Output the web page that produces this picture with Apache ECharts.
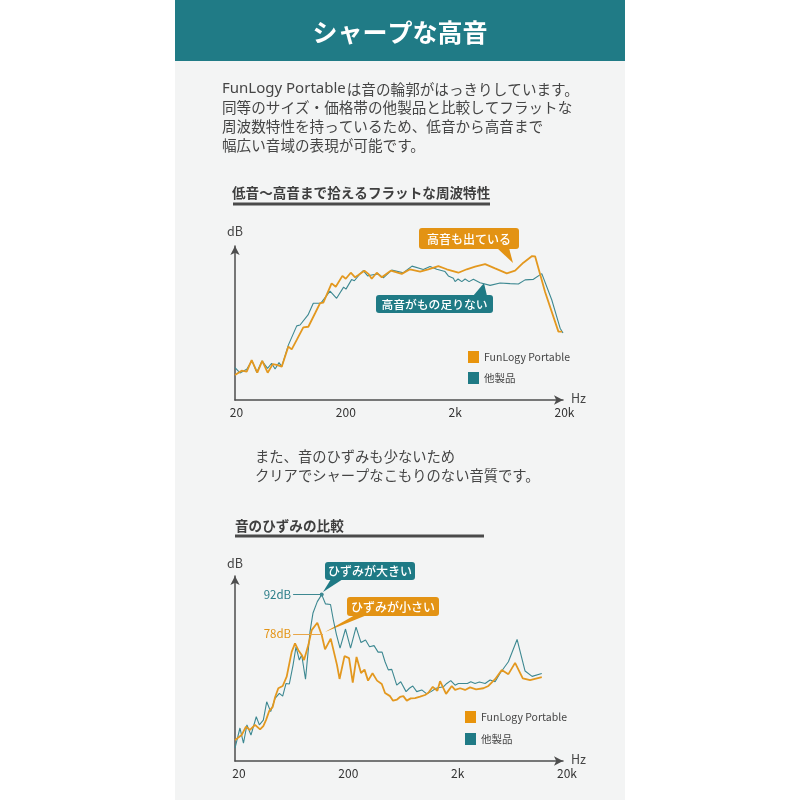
<!DOCTYPE html>
<html>
<head>
<meta charset="utf-8">
<script src="https://cdn.jsdelivr.net/npm/echarts@6/dist/echarts.min.js"></script>
<style>
html,body{margin:0;padding:0;background:#ffffff;}
#c{width:800px;height:800px;}
</style>
</head>
<body>
<div id="c"></div>
<script>
// ---------- data ----------
const xTickLabels = ['20', '200', '2k', '20k'];
const seriesNames = ['FunLogy Portable', '他製品'];

// Chart 1: frequency response [Hz, dB]
const funlogyResponse = [[20,41.7],[23,43.2],[25.6,42.9],[28.4,46.9],[32,42.5],[35.5,46.6],[39.8,42.5],[44.3,45.5],[48.1,45.2],[53.5,44.6],[61.5,51.6],[66,50.6],[73.4,53.9],[84.3,58.3],[93.7,58.5],[108,63.2],[120,66.7],[128.5,66.9],[153,73.6],[167,72.4],[192,76.2],[206,75.2],[229,77.3],[251,75.7],[269,76.5],[305,78.0],[332,76.9],[356,75.2],[396,77.3],[440,75.7],[532,78.0],[670,76.9],[798,78.5],[986,77.7],[1174,78.5],[1449,79.6],[1730,78.5],[2208,77.3],[2636,78.5],[3140,79.4],[3877,80.3],[4785,78.8],[6120,77.1],[7292,78.0],[8684,80.8],[10434,83.1],[11108,83.0],[13716,70.6],[18154,56.8],[19620,56.8]];
const otherResponse = [[20,44.3],[22.2,42.4],[25.6,43.7],[28.6,46.7],[31.6,42.6],[35.3,46.6],[39.7,44.0],[43.3,45.8],[46.5,43.8],[50.5,46.0],[53.5,44.6],[61.5,52.1],[73.4,58.8],[78.7,59.1],[93.1,62.6],[104,66.7],[122,66.7],[148,70.9],[170,68.4],[197,72.3],[207,71.6],[233,74.9],[247,74.5],[278,76.9],[298,78.0],[327,76.2],[356,76.5],[409,76.9],[455,75.5],[543,78.2],[693,77.3],[832,79.6],[1056,78.4],[1216,79.5],[1400,78.5],[1668,77.7],[1788,76.2],[1988,75.4],[2060,74.2],[2194,75.1],[2372,74.2],[2544,75.1],[2766,74.2],[3028,75.0],[3488,73.8],[4306,72.9],[5316,73.7],[6561,73.5],[7816,73.4],[9000,74.8],[10724,75.0],[12794,77.0],[15800,67.8],[18816,58.0],[20000,56.3]];

// Chart 2: distortion [Hz, dB]
const funlogyDistortion = [[20,40.4],[23,42.2],[25.2,45.2],[27.4,44.0],[30.5,45.8],[33.9,44.2],[36.3,45.4],[38.4,47.5],[41.2,50.8],[44.3,52.2],[46.5,55.6],[49.8,58.8],[54.6,59.6],[59.4,62.9],[66,71.7],[70.8,74.7],[75.9,72.3],[81.5,70.6],[85.6,68.8],[93.7,74.1],[100.6,79.4],[113.2,82.0],[124.2,77.7],[133.2,72.6],[150.2,76.4],[171.5,67.0],[180.8,62.1],[200.8,70.2],[220.8,69.5],[238.8,60.8],[258.6,69.9],[284.2,64.2],[306,65.4],[329.6,61.5],[362.2,64.1],[398.4,61.5],[440,60.3],[471.4,57.1],[523.8,56.0],[558,54.4],[607,54.8],[646.6,55.7],[693,56.0],[744.6,54.4],[810,55.2],[887,55.3],[986,55.8],[1095,56.4],[1174,57.2],[1288,59.3],[1419,57.9],[1502,61.3],[1704,56.8],[1922,59.6],[2060,58.2],[2290,58.8],[2544,58.2],[2825,59.1],[3207,58.4],[3739,58.8],[4155,59.6],[4785,62.0],[5508,65.3],[6332,63.8],[7292,67.8],[8574,62.3],[10000,61.7],[12794,62.7]];
const otherDistortion = [[20,37.6],[22.2,44.7],[23.9,39.3],[25.7,45.8],[28.0,42.2],[31.3,48.7],[33.4,45.8],[36.3,47.5],[39.0,54.0],[42.4,50.5],[46.5,55.2],[50.9,57.0],[54.6,56.0],[58.6,60.5],[62.8,60.3],[67.9,67.0],[72.3,73.5],[77.5,68.8],[81.5,70.6],[88.3,62.0],[97.1,78.9],[103.4,85.5],[113.2,89.5],[124.2,92.0],[134.6,88.7],[149.5,88.5],[158.7,83.0],[169,78.0],[182.7,73.0],[205,79.8],[228,73.0],[256,80.5],[284.2,75.0],[312.6,75.9],[340,73.5],[374,73.9],[407,71.6],[443,71.6],[471.4,68.2],[505,65.3],[543,65.5],[603,59.9],[656,61.1],[734,57.6],[787,58.8],[845,59.6],[919,57.6],[1021,58.2],[1135,56.8],[1242,57.6],[1380,58.8],[1610,59.3],[1730,60.5],[1882,61.5],[2060,59.9],[2208,60.5],[2670,60.5],[2868,61.1],[3140,60.5],[3436,61.0],[3877,60.5],[4306,61.7],[4785,61.1],[5316,64.1],[6332,68.2],[7604,76.1],[9000,64.9],[10434,63.0],[12794,64.0]];

// annotation values
const otherPeakDb = 92;
const funlogyPeakDb = 78;
const guideStartHz = 68;
const otherPeakHz = 124.2;
const funlogyGuideEndHz = 127.7;

// ---------- helpers ----------
const toPos = f => Math.log10(f / 20);
const conv = arr => arr.map(([f, d]) => [toPos(f), d]);

const FONT = '"Noto Sans CJK JP", "Noto Sans", sans-serif';
const FONT_LATIN = '"Noto Sans", "Noto Sans CJK JP", sans-serif';
const ORANGE = '#e3981f';
const ORANGE_BOX = '#e39314';
const TEAL_LINE = '#3d8891';
const TEAL_BOX = '#1f7a85';
const TXT = '#454545';

function xAxisCfg(gi, labelPad) {
  return {
    gridIndex: gi, type: 'value', min: 0, max: 3, interval: 1,
    axisLine: { show: true, symbol: ['none', 'arrow'], symbolSize: [7, 9],
      lineStyle: { color: '#4d4d4d', width: 1.5 } },
    axisTick: { show: false }, splitLine: { show: false },
    axisLabel: { formatter: v => xTickLabels[Math.round(v)] ?? '', margin: 6,
      color: '#333', fontSize: 12, fontFamily: FONT, padding: labelPad,
      showMinLabel: true, showMaxLabel: true }
  };
}
function yAxisCfg(gi, min, max, gap) {
  return {
    gridIndex: gi, type: 'value', min: min, max: max,
    name: 'dB', nameLocation: 'end', nameGap: gap,
    nameTextStyle: { color: TXT, fontSize: 12.5, fontFamily: FONT, align: 'center' },
    axisLine: { show: true, symbol: ['none', 'arrow'], symbolSize: [7, 9],
      lineStyle: { color: '#4d4d4d', width: 1.5 } },
    axisTick: { show: false }, splitLine: { show: false }, axisLabel: { show: false }
  };
}
function lineSeries(name, data, gi, color, iconColor, width, z, extra) {
  return Object.assign({
    name: name, type: 'line', xAxisIndex: gi, yAxisIndex: gi,
    data: conv(data), symbol: 'none', smooth: false, z: z,
    lineStyle: { color: color, width: width },
    itemStyle: { color: iconColor },
    emphasis: { disabled: true }
  }, extra || {});
}
function legendCfg(left, top, gap) {
  return {
    left: left, top: top, orient: 'vertical', padding: 0,
    itemWidth: 11, itemHeight: 12, itemGap: gap, icon: 'rect',
    data: seriesNames, selectedMode: false,
    textStyle: { color: TXT, fontSize: 10.5, fontFamily: FONT }
  };
}
function txt(text, x, y, size, color, weight, align, family) {
  return { type: 'text', silent: true, style: {
    text: text, x: x, y: y, fill: color, fontSize: size, fontWeight: weight || 'normal',
    fontFamily: family || FONT, textAlign: align || 'left', align: align || 'left',
    textVerticalAlign: 'middle', verticalAlign: 'middle' } };
}
function box(x, y, w, h, color, label, tri, size) {
  return [
    { type: 'rect', silent: true, shape: { x: x, y: y, width: w, height: h, r: 3 }, style: { fill: color } },
    { type: 'polygon', silent: true, shape: { points: tri }, style: { fill: color } },
    txt(label, x + w / 2, y + h / 2 + 0.5, size, '#ffffff', 500, 'center')
  ];
}

const introFirst = { type: 'text', silent: true, style: {
  text: '{a|FunLogy Portable}{b|は音の輪郭がはっきりしています。}',
  x: 222, y: 89, fill: TXT, align: 'left', textAlign: 'left',
  verticalAlign: 'middle', textVerticalAlign: 'middle',
  rich: {
    a: { fontSize: 15, fontFamily: FONT_LATIN, fill: TXT, color: TXT },
    b: { fontSize: 14.6, fontFamily: FONT, fill: TXT, color: TXT, padding: [0, 0, 0, 1] }
  } } };

const graphics = [
  { type: 'rect', silent: true, z: -10, shape: { x: 175, y: 0, width: 450, height: 800 }, style: { fill: '#f3f4f4' } },
  { type: 'rect', silent: true, z: -9, shape: { x: 175, y: 0, width: 450, height: 61 }, style: { fill: '#207b86' } },
  txt('シャープな高音', 400, 32, 25, '#ffffff', 'bold', 'center'),
  introFirst,
  txt('同等のサイズ・価格帯の他製品と比較してフラットな', 222, 107.5, 14.6, TXT),
  txt('周波数特性を持っているため、低音から高音まで', 222, 126.5, 14.6, TXT),
  txt('幅広い音域の表現が可能です。', 222, 145.5, 14.6, TXT),
  txt('低音〜高音まで拾えるフラットな周波特性', 232, 193, 13.6, '#3f3f3f', 'bold'),
  { type: 'rect', silent: true, shape: { x: 233, y: 202.5, width: 257, height: 3 }, style: { fill: '#4a4a4a' } },
  txt('Hz', 571, 398.5, 12.5, TXT),
  txt('また、音のひずみも少ないため', 255, 457, 14.3, TXT),
  txt('クリアでシャープなこもりのない音質です。', 255, 476, 14.3, TXT),
  txt('音のひずみの比較', 235, 526, 13.6, '#3f3f3f', 'bold'),
  { type: 'rect', silent: true, shape: { x: 235, y: 534.5, width: 249, height: 3 }, style: { fill: '#4a4a4a' } },
  txt('Hz', 571, 759.5, 12.5, TXT)
].concat(
  box(419, 228, 100, 21, ORANGE_BOX, '高音も出ている', [[497, 248], [509, 248], [513, 263]], 12),
  box(376, 295, 117, 18, TEAL_BOX, '高音がもの足りない', [[473, 296], [487, 296], [484, 283]], 11.8),
  box(325, 562, 90, 18, TEAL_BOX, 'ひずみが大きい', [[331, 579], [343, 579], [323, 592]], 12),
  box(347, 597, 92, 19, ORANGE_BOX, 'ひずみが小さい', [[355, 615], [367, 615], [325, 632]], 12)
);

const option = {
  animation: false,
  backgroundColor: '#ffffff',
  grid: [
    { left: 235, top: 246, width: 328, height: 154 },
    { left: 235, top: 576, width: 328, height: 185 }
  ],
  xAxis: [xAxisCfg(0, [0, 0, 0, 3]), xAxisCfg(1, [0, 0, 0, 8])],
  yAxis: [yAxisCfg(0, 33, 86.6, 8), yAxisCfg(1, 33, 98.6, 7)],
  legend: [legendCfg(468, 351, 9), legendCfg(465, 711, 10)],
  series: [
    lineSeries('他製品', otherResponse, 0, TEAL_LINE, TEAL_BOX, 1.1, 2),
    lineSeries('FunLogy Portable', funlogyResponse, 0, ORANGE, '#e8940c', 1.8, 3),
    lineSeries('他製品', otherDistortion, 1, TEAL_LINE, TEAL_BOX, 1.1, 2, {
      markLine: {
        silent: true, symbol: ['none', 'circle'], symbolSize: 4,
        lineStyle: { color: '#3d8891', width: 1, type: 'solid' },
        label: { show: true, position: 'start', distance: 2, formatter: otherPeakDb + 'dB',
          color: '#2a7d88', fontSize: 11.5, fontFamily: FONT },
        emphasis: { disabled: true },
        data: [[{ coord: [toPos(guideStartHz), otherPeakDb] }, { coord: [toPos(otherPeakHz), otherPeakDb] }]]
      }
    }),
    lineSeries('FunLogy Portable', funlogyDistortion, 1, ORANGE, '#e8940c', 1.8, 3, {
      markLine: {
        silent: true, symbol: ['none', 'none'],
        lineStyle: { color: '#e8a648', width: 1, type: 'solid' },
        label: { show: true, position: 'start', distance: 2, formatter: funlogyPeakDb + 'dB',
          color: '#e39314', fontSize: 11.5, fontFamily: FONT },
        emphasis: { disabled: true },
        data: [[{ coord: [toPos(guideStartHz), funlogyPeakDb] }, { coord: [toPos(funlogyGuideEndHz), funlogyPeakDb] }]]
      }
    })
  ],
  graphic: graphics
};

const chart = echarts.init(document.getElementById('c'), null, { renderer: 'canvas' });
chart.setOption(option);
</script>
</body>
</html>
